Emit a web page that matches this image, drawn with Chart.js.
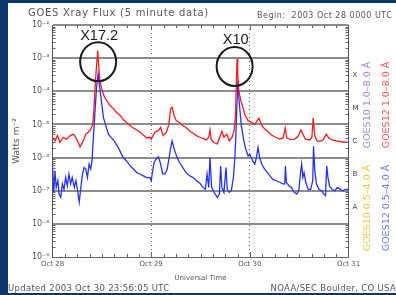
<!DOCTYPE html>
<html>
<head>
<meta charset="utf-8">
<script src="https://cdn.jsdelivr.net/npm/chart.js@4.4.0/dist/chart.umd.min.js"></script>
<style>
  html, body { margin: 0; padding: 0; background: #0c376b; }
  #wrap { width: 396px; height: 295px; }
</style>
</head>
<body>
<div id="wrap"><canvas id="xrayChart" width="396" height="295"></canvas></div>
<script>
"use strict";

// hours after 2003 Oct 28 00:00 UT, flux in W m^-2
const longHours = [0, 0.6, 1.2, 1.8, 2.6, 3.4, 4.3, 5.1, 5.9, 6.7, 7.5, 8.1, 8.7, 9.3, 9.8, 10.1, 10.4, 10.75, 11.0, 11.25,
  11.55, 11.95, 12.5, 13.2, 14.0, 14.8, 15.6, 16.4, 17.2, 18.0, 18.9, 19.7, 20.5, 21.3, 22.1, 22.9, 23.7, 24.0, 24.9, 25.7,
  26.3, 26.9, 27.7, 28.3, 28.75, 29.1, 29.6, 30.1, 30.9, 31.7, 32.5, 33.4, 34.2, 35.0, 35.8, 36.6, 37.4, 38.0, 38.3, 38.6,
  39.3, 40.1, 40.7, 41.2, 41.7, 42.4, 43.0, 43.7, 44.15, 44.5, 44.7, 44.9, 45.05, 45.3, 45.8, 46.3, 46.9, 47.6, 48.4, 49.2,
  49.8, 50.2, 50.8, 51.4, 52.3, 53.2, 54.2, 55.3, 56.1, 56.6, 57.0, 57.9, 58.9, 59.7, 60.4, 60.9, 61.5, 62.6, 63.1, 63.4,
  63.8, 64.3, 65.0, 65.8, 66.6, 67.2, 68.0, 69.0, 70.2, 71.2, 71.9];
const longFlux = [4.1e-6, 3.2e-6, 4.6e-6, 2.9e-6, 4.1e-6, 3.6e-6, 4.6e-6, 5.1e-6, 3.6e-6, 2.1e-6, 3.2e-6, 5.1e-6, 5.8e-6, 7.2e-6, 1.0e-5, 3.3e-5, 1.7e-4, 6.8e-4, 1.7e-3, 5.4e-4,
  2.1e-4, 1.2e-4, 7.4e-5, 5.2e-5, 3.7e-5, 3.0e-5, 2.3e-5, 1.9e-5, 1.4e-5, 1.15e-5, 9.1e-6, 7.8e-6, 6.8e-6, 5.8e-6, 4.8e-6, 3.9e-6, 4.1e-6, 3.6e-6, 5.8e-6, 6.5e-6,
  8.1e-6, 4.6e-6, 5.8e-6, 1.0e-5, 3.0e-5, 3.3e-5, 1.8e-5, 1.3e-5, 1.15e-5, 9.1e-6, 8.1e-6, 6.2e-6, 5.4e-6, 4.6e-6, 4.1e-6, 3.8e-6, 3.4e-6, 4.1e-6, 6.8e-6, 3.6e-6,
  2.8e-6, 2.6e-6, 4.1e-6, 6.2e-6, 4.1e-6, 5.1e-6, 3.2e-6, 4.1e-6, 6.5e-6, 1.6e-5, 1.7e-4, 9.5e-4, 3.4e-4, 1.05e-4, 5.2e-5, 3.3e-5, 1.8e-5, 1.3e-5, 1.15e-5, 1.0e-5,
  1.3e-5, 1.55e-5, 1.0e-5, 7.8e-6, 6.2e-6, 4.9e-6, 4.1e-6, 3.6e-6, 3.9e-6, 7.8e-6, 3.9e-6, 3.5e-6, 3.6e-6, 4.3e-6, 6.8e-6, 5.1e-6, 3.6e-6, 3.4e-6, 4.1e-6, 1.55e-5,
  4.6e-6, 3.2e-6, 3.1e-6, 3.4e-6, 5.1e-6, 3.9e-6, 3.4e-6, 3.2e-6, 3.0e-6, 2.9e-6, 2.9e-6];

const shortHours = [0, 0.3, 0.6, 0.9, 1.3, 1.6, 2.0, 2.4, 2.8, 3.2, 3.6, 4.0, 4.4, 4.8, 5.3, 5.7, 6.1, 6.5, 6.9, 7.3,
  7.7, 8.1, 8.5, 8.9, 9.3, 9.6, 9.9, 10.3, 10.7, 11.1, 11.5, 12.0, 12.4, 13.0, 13.6, 14.3, 15.0, 16.0, 17.2, 18.0,
  18.9, 19.7, 20.5, 21.3, 22.1, 22.9, 23.7, 24.0, 24.7, 25.2, 25.8, 26.3, 26.8, 27.4, 27.9, 28.3, 28.75, 29.1, 29.6, 30.2,
  30.9, 31.7, 32.5, 33.4, 34.2, 35.0, 35.8, 36.6, 37.2, 37.6, 38.0, 38.3, 38.7, 39.1, 39.6, 40.1, 40.6, 40.9, 41.2, 41.7,
  42.2, 42.5, 43.0, 43.5, 44.0, 44.3, 44.55, 44.8, 45.1, 45.4, 45.9, 46.4, 46.9, 47.6, 48.0, 48.7, 49.2, 49.6, 50.0, 50.4,
  50.9, 51.6, 52.3, 52.9, 53.6, 54.4, 55.3, 56.0, 56.5, 56.65, 56.9, 57.5, 58.1, 58.8, 59.4, 59.9, 60.3, 60.6, 60.9, 61.2,
  61.6, 62.2, 62.8, 63.3, 63.5, 63.8, 64.2, 64.8, 65.4, 66.0, 66.4, 66.7, 67.0, 67.4, 68.0, 68.7, 69.3, 70.0, 70.6, 71.3, 71.9];
const shortFlux = [6.3e-7, 8.9e-8, 4.0e-7, 1.26e-7, 2.0e-7, 7.9e-8, 6.3e-8, 1.6e-7, 1.1e-7, 2.5e-7, 1.4e-7, 3.2e-7, 1.6e-7, 2.5e-7, 1.26e-7, 2.0e-7, 1.0e-7, 4.5e-8, 1.26e-7, 3.2e-7,
  5.0e-7, 4.5e-7, 2.5e-7, 6.3e-7, 4.5e-7, 7.9e-7, 3.2e-6, 2.0e-5, 1.26e-4, 3.4e-4, 1.26e-4, 4.0e-5, 1.6e-5, 8.9e-6, 5.1e-6, 4.0e-6, 3.2e-6, 2.0e-6, 1.0e-6, 7.9e-7,
  5.6e-7, 4.5e-7, 3.5e-7, 3.2e-7, 2.8e-7, 2.5e-7, 2.5e-7, 2.0e-7, 7.1e-7, 8.9e-7, 1.05e-6, 6.3e-7, 3.2e-7, 3.2e-7, 4.5e-7, 8.9e-7, 2.0e-6, 3.2e-6, 1.8e-6, 1.1e-6,
  7.1e-7, 5.0e-7, 3.5e-7, 2.8e-7, 2.5e-7, 2.0e-7, 1.7e-7, 1.26e-7, 1.1e-7, 3.2e-7, 1.26e-7, 1.0e-6, 1.26e-7, 1.0e-7, 7.8e-8, 6.3e-8, 7.9e-8, 5.6e-7, 1.26e-7, 8.9e-8,
  5.0e-7, 1.1e-7, 8.9e-8, 1.0e-7, 2.5e-7, 7.9e-7, 3.2e-6, 2.5e-5, 2.1e-4, 5.0e-5, 1.0e-5, 4.0e-6, 2.0e-6, 1.1e-6, 1.26e-6, 7.9e-7, 6.3e-7, 1.0e-6, 2.0e-6, 1.0e-6,
  6.3e-7, 4.5e-7, 3.5e-7, 2.8e-7, 2.2e-7, 2.0e-7, 1.8e-7, 1.6e-7, 1.6e-7, 5.6e-7, 1.8e-7, 1.4e-7, 1.26e-7, 8.9e-8, 7.9e-8, 1.0e-7, 3.2e-7, 6.3e-7, 2.5e-7, 3.5e-7,
  1.8e-7, 1.1e-7, 1.1e-7, 2.0e-7, 2.2e-6, 4.0e-7, 1.6e-7, 1.1e-7, 1.0e-7, 7.9e-8, 7.1e-8, 5.6e-7, 2.5e-7, 1.4e-7, 1.1e-7, 1.0e-7, 1.26e-7, 1.1e-7, 1.0e-7, 1.1e-7, 1.1e-7];

const dayTicks = [0, 24, 48, 72];
const dayLabels = ['Oct 28', 'Oct 29', 'Oct 30', 'Oct 31'];
const decadeTicks = [1e-9, 1e-8, 1e-7, 1e-6, 1e-5, 1e-4, 1e-3, 1e-2];
const decadeLabels = ['10⁻⁹', '10⁻⁸', '10⁻⁷', '10⁻⁶', '10⁻⁵', '10⁻⁴', '10⁻³', '10⁻²'];
const classTicks = [3.16e-8, 3.16e-7, 3.16e-6, 3.16e-5, 3.16e-4];
const classLabels = ['A', 'B', 'C', 'M', 'X'];

const flareHours = [11.1, 44.3];
const flareFlux = [7.8e-4, 5.6e-4];
const flareNames = ['X17.2', 'X10'];

const legendTop = ['GOES10 1.0–8.0 Å', 'GOES12 1.0–8.0 Å'];
const legendBottom = ['GOES10 0.5–4.0 Å', 'GOES12 0.5–4.0 Å'];

const FONT = 'DejaVu Sans';
const TEXT = '#555';

const toPoints = (hours, flux) => hours.map((h, i) => ({ x: h, y: flux[i] }));

const decor = {
  id: 'decor',
  beforeDraw: (chart) => {
    const ctx = chart.ctx;
    ctx.save();
    ctx.fillStyle = '#0c376b';
    ctx.fillRect(0, 0, chart.width, chart.height);
    ctx.fillStyle = '#ffffff';
    ctx.fillRect(8, 3, chart.width - 8, 290);
    ctx.restore();
  },
  afterDraw: (chart) => {
    const ctx = chart.ctx;
    const xs = chart.scales.x;
    const ys = chart.scales.y;
    const a = chart.chartArea;
    ctx.save();

    // minor ticks, inside the frame
    ctx.strokeStyle = '#666';
    ctx.lineWidth = 1;
    ctx.beginPath();
    for (let n = -9; n < -2; n++) {
      for (let k = 2; k < 10; k++) {
        const py = Math.round(ys.getPixelForValue(k * Math.pow(10, n))) + 0.5;
        ctx.moveTo(a.left, py); ctx.lineTo(a.left + 3, py);
        ctx.moveTo(a.right, py); ctx.lineTo(a.right - 3, py);
      }
    }
    for (let h = 3; h < 72; h += 3) {
      const px = Math.round(xs.getPixelForValue(h)) + 0.5;
      const len = h % 24 === 0 ? 5 : 3;
      ctx.moveTo(px, a.bottom); ctx.lineTo(px, a.bottom - len);
      ctx.moveTo(px, a.top); ctx.lineTo(px, a.top + len);
    }
    ctx.stroke();

    // flare circles
    ctx.strokeStyle = '#1a1a1a';
    ctx.lineWidth = 2;
    ctx.fillStyle = '#1a1a1a';
    ctx.font = '14.5px "Liberation Sans"';
    ctx.textAlign = 'center';
    ctx.textBaseline = 'middle';
    flareHours.forEach((h, i) => {
      const cx = xs.getPixelForValue(h);
      const cy = ys.getPixelForValue(flareFlux[i]);
      ctx.beginPath();
      ctx.ellipse(cx, cy, 18, 19.5, 0, 0, Math.PI * 2);
      ctx.stroke();
      ctx.fillText(flareNames[i], cx + 1, cy - 26);
    });

    // header and footer
    ctx.fillStyle = TEXT;
    ctx.textAlign = 'left';
    ctx.font = '10px "' + FONT + '"';
    ctx.letterSpacing = '0.7px';
    ctx.fillText('GOES Xray Flux (5 minute data)', 28, 13.5);
    ctx.font = '8px "' + FONT + '"';
    ctx.letterSpacing = '0.5px';
    ctx.fillText('Begin:  2003 Oct 28 0000 UTC', 257, 15.5);
    ctx.font = '8.5px "' + FONT + '"';
    ctx.letterSpacing = '0.3px';
    ctx.fillText('Updated 2003 Oct 30 23:56:05 UTC', 8, 289);
    ctx.textAlign = 'right';
    ctx.fillText('NOAA/SEC Boulder, CO USA', 396, 289);
    ctx.letterSpacing = '0px';

    // rotated labels
    const vtext = (txt, x, y, color, size) => {
      ctx.save();
      ctx.translate(x, y);
      ctx.rotate(-Math.PI / 2);
      ctx.fillStyle = color;
      ctx.font = size + 'px "' + FONT + '"';
      ctx.textAlign = 'center';
      ctx.textBaseline = 'middle';
      ctx.fillText(txt, 0, 0);
      ctx.restore();
    };
    vtext('Watts m⁻²', 17, 141, TEXT, 9);
    vtext(legendTop[0], 368, 105, '#a080f0', 9.5);
    vtext(legendTop[1], 387, 105, '#ff5050', 9.5);
    vtext(legendBottom[0], 368, 208, '#ffc040', 9.5);
    vtext(legendBottom[1], 387, 208, '#6575ff', 9.5);

    ctx.restore();
  }
};

const ctx = document.getElementById('xrayChart').getContext('2d');
const xrayChart = new Chart(ctx, {
  type: 'line',
  data: {
    datasets: [
      {
        label: 'GOES12 1.0-8.0 A',
        data: toPoints(longHours, longFlux),
        borderColor: '#ff1a1a',
        borderWidth: 1.3,
        pointRadius: 0,
        tension: 0
      },
      {
        label: 'GOES12 0.5-4.0 A',
        data: toPoints(shortHours, shortFlux),
        borderColor: '#2233ff',
        borderWidth: 1.3,
        pointRadius: 0,
        tension: 0
      }
    ]
  },
  options: {
    responsive: false,
    animation: false,
    devicePixelRatio: 1,
    layout: { padding: { left: 8, top: 25, right: 0, bottom: 0 } },
    plugins: { legend: { display: false }, tooltip: { enabled: false } },
    scales: {
      x: {
        type: 'linear',
        min: 0,
        max: 72,
        afterBuildTicks: (s) => { s.ticks = dayTicks.map(v => ({ value: v })); },
        afterFit: (s) => { s.height = 38; },
        ticks: {
          callback: (v, i) => dayLabels[i],
          font: { family: FONT, size: 7 },
          color: TEXT,
          padding: 3,
          maxRotation: 0,
          autoSkip: false
        },
        grid: {
          color: (c) => (c.tick && (c.tick.value === 24 || c.tick.value === 48)) ? '#666' : 'rgba(0,0,0,0)',
          lineWidth: 1,
          drawTicks: false
        },
        border: { display: true, color: '#666', width: 1, dash: [1, 3] },
        title: {
          display: true,
          text: 'Universal Time',
          font: { family: FONT, size: 7 },
          color: TEXT,
          padding: { top: 0, bottom: 13 }
        }
      },
      y: {
        type: 'logarithmic',
        position: 'left',
        min: 1e-9,
        max: 1e-2,
        afterBuildTicks: (s) => { s.ticks = decadeTicks.map(v => ({ value: v })); },
        afterFit: (s) => { s.width = 44.5; },
        ticks: {
          callback: (v, i) => decadeLabels[i],
          font: { family: FONT, size: 8 },
          color: TEXT,
          padding: 3,
          autoSkip: false
        },
        grid: {
          color: '#8c8c8c',
          lineWidth: (c) => (c.tick && c.tick.value === 1e-9) ? 1 : 2,
          drawTicks: false
        },
        border: { display: true, color: '#555', width: 1 }
      },
      y2: {
        type: 'logarithmic',
        position: 'right',
        min: 1e-9,
        max: 1e-2,
        afterBuildTicks: (s) => { s.ticks = classTicks.map(v => ({ value: v })); },
        afterFit: (s) => { s.width = 47.5; },
        ticks: {
          callback: (v, i) => classLabels[i],
          font: { family: FONT, size: 7 },
          color: '#444',
          padding: 4,
          autoSkip: false
        },
        grid: { drawOnChartArea: false, drawTicks: false },
        border: { display: true, color: '#555', width: 1 }
      }
    }
  },
  plugins: [decor]
});
</script>
</body>
</html>
